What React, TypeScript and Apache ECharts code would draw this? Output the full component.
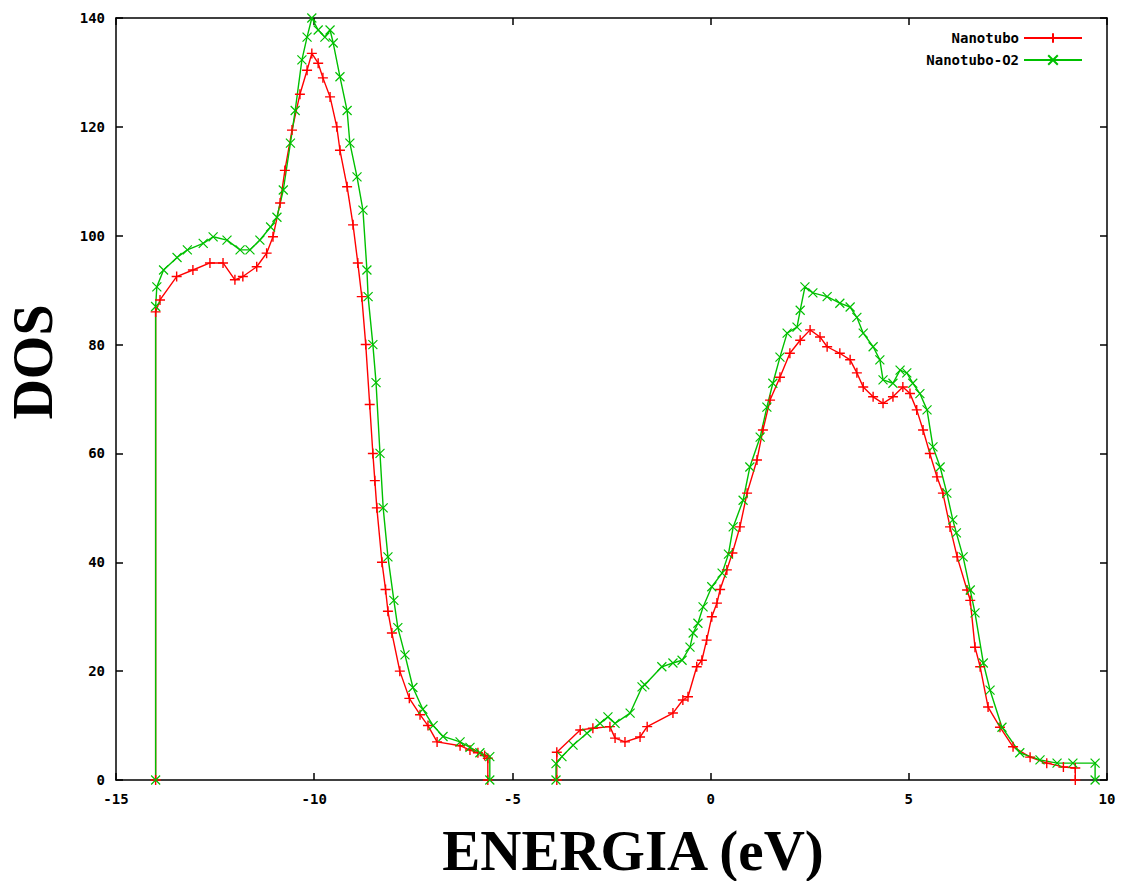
import React, { useEffect, useRef } from "react";
import * as echarts from "echarts";

const seriesNames = ["Nanotubo", "Nanotubo-O2"];
const xTicks = [-15, -10, -5, 0, 5, 10];
const yTicks = [0, 20, 40, 60, 80, 100, 120, 140];

const energiaNanotubo: (number | string)[] = [
  -14, -14, -13.89, -13.47, -13.06, -12.63, -12.3, -12.0, -11.8, -11.45, -11.2, -11.04, -10.86, -10.74, -10.56, -10.36,
  -10.18, -10.06, -9.9, -9.78, -9.6, -9.43, -9.35, -9.17, -9.02, -8.9, -8.8, -8.7, -8.6, -8.52, -8.47, -8.42, -8.29,
  -8.2, -8.14, -8.04, -7.84, -7.6, -7.33, -7.13, -6.9, -6.32, -6.07, -5.87, -5.7, -5.62, -5.62, -4.75,
  -3.88, -3.88, -3.29, -2.97, -2.54, -2.41, -2.16, -1.78, -1.6, -0.95, -0.7, -0.57, -0.35, -0.22, -0.1, 0.03, 0.16,
  0.24, 0.41, 0.55, 0.74, 0.92, 1.17, 1.32, 1.5, 1.75, 2.0, 2.26, 2.51, 2.76, 2.94, 3.26, 3.52, 3.69, 3.85, 4.1, 4.35,
  4.6, 4.85, 5.03, 5.2, 5.36, 5.53, 5.71, 5.86, 6.04, 6.22, 6.47, 6.55, 6.67, 6.8, 7.0, 7.3, 7.63, 8.06, 8.48, 8.9,
  9.2, 9.2,
];
const dosNanotubo: (number | string)[] = [
  0, 86, 88.2, 92.5, 93.7, 95, 95, 91.9, 92.5, 94.3, 96.8, 99.8, 106, 112, 119.4, 126,
  130.4, 133.5, 131.7, 129, 125.5, 120, 115.7, 109, 102, 95, 88.8, 80, 69, 60, 55, 50, 40,
  35, 31, 27, 20, 15, 12, 10, 7, 6.3, 5.5, 5, 4.5, 4, 0, "-",
  0, 5.1, 9.2, 9.5, 9.8, 7.7, 7.0, 7.9, 9.8, 12.3, 14.7, 15.3, 20.8, 22, 25.7, 30, 32.5,
  35, 38.6, 41.7, 46.5, 52.7, 58.8, 64.3, 69.8, 74, 78.4, 80.8, 82.7, 81.4, 79.6, 78.4, 77.2, 74.8, 72.2, 70.4, 69.2,
  70.4, 72.2, 71, 68, 64.3, 60, 55.7, 52.7, 46.5, 41, 34.9, 33, 24.4, 20.8, 13.4, 9.7, 6.1, 4.2, 3.1, 2.4,
  2.2, 0,
];

const energiaNanotuboO2: (number | string)[] = [
  -14, -14, -13.97, -13.8, -13.46, -13.2, -12.8, -12.55, -12.2, -11.87, -11.62, -11.37, -11.1, -10.94, -10.78, -10.6,
  -10.48, -10.31, -10.18, -10.06, -9.9, -9.73, -9.6, -9.52, -9.35, -9.17, -9.1, -8.92, -8.77, -8.67, -8.64, -8.52,
  -8.44, -8.34, -8.26, -8.14, -7.99, -7.89, -7.71, -7.51, -7.26, -7.0, -6.75, -6.32, -6.07, -5.82, -5.57, -5.57, -4.75,
  -3.9, -3.9, -3.75, -3.47, -3.12, -2.79, -2.59, -2.41, -2.03, -1.73, -1.66, -1.23, -0.95, -0.72, -0.52, -0.44, -0.32,
  -0.19, 0.03, 0.29, 0.45, 0.57, 0.82, 0.99, 1.25, 1.42, 1.57, 1.75, 1.93, 2.18, 2.26, 2.38, 2.58, 2.94, 3.26, 3.52,
  3.69, 3.85, 4.1, 4.27, 4.35, 4.6, 4.78, 4.95, 5.1, 5.28, 5.46, 5.61, 5.79, 5.96, 6.11, 6.2, 6.37, 6.55, 6.67, 6.88,
  7.05, 7.35, 7.8, 8.31, 8.74, 9.14, 9.7, 9.7,
];
const dosNanotuboO2: (number | string)[] = [
  0, 87, 90.6, 93.7, 96, 97.4, 98.6, 99.8, 99.2, 97.4, 97.4, 99.2, 101.6, 103.4, 108.4, 117,
  123, 132.3, 136.5, 140, 137.8, 136.5, 137.8, 135.4, 129.2, 123, 117, 110.8, 104.7, 93.7, 88.8, 80,
  73, 60, 50, 41, 33, 28, 23, 17, 13, 10, 8, 7, 6, 5, 4.3, 0, "-",
  0, 3, 4.3, 6.4, 8.6, 10.4, 11.6, 10.4, 12.3, 17.1, 17.5, 20.8, 21.5, 22, 24.4, 27, 28.8,
  31.8, 35.5, 38, 41.5, 46.5, 51.4, 57.5, 63, 68.5, 72.9, 77.7, 82.1, 83.2, 86.3, 90.6, 89.5, 88.8, 87.6, 86.9,
  85, 82.1, 79.6, 77.2, 73.5, 72.9, 75.3, 74.8, 72.9, 71, 68, 61.2, 57.5, 52.7, 47.8, 45.4, 41, 34.9, 30.7, 21.5,
  16.5, 9.7, 5, 3.7, 3.1, 3.1, 3.1, 0,
];

const zip = (xs: (number | string)[], ys: (number | string)[]) => xs.map((x, i) => [x, ys[i]]);

const tickFont = "DejaVu Sans Mono";

export default function App() {
  const ref = useRef<HTMLDivElement>(null);
  useEffect(() => {
    if (!ref.current) return;
    const chart = echarts.init(ref.current, null, { renderer: "svg" });
    const axisLine = { show: true, onZero: false, lineStyle: { color: "#000", width: 1.5 } };
    const tick = { show: true, inside: true, length: 7, lineStyle: { color: "#000", width: 1.5 } };
    const label = { color: "#000", fontFamily: tickFont, fontWeight: "bold" as const, fontSize: 14 };
    chart.setOption({
      animation: false,
      backgroundColor: "#fff",
      grid: { left: 116, right: 27, top: 18, bottom: 101, containLabel: false },
      legend: {
        data: seriesNames,
        orient: "vertical",
        align: "right",
        right: 46,
        top: 26,
        itemWidth: 58,
        itemHeight: 12,
        itemGap: 8,
        textStyle: { color: "#000", fontFamily: tickFont, fontWeight: "bold", fontSize: 14 },
      },
      xAxis: [
        {
          type: "value",
          min: xTicks[0],
          max: xTicks[xTicks.length - 1],
          interval: 5,
          axisLine,
          axisTick: tick,
          splitLine: { show: false },
          axisLabel: { ...label, margin: 12 },
        },
        {
          type: "value",
          position: "top",
          min: xTicks[0],
          max: xTicks[xTicks.length - 1],
          interval: 5,
          axisLine,
          axisTick: tick,
          splitLine: { show: false },
          axisLabel: { show: false },
        },
      ],
      yAxis: [
        {
          type: "value",
          min: yTicks[0],
          max: yTicks[yTicks.length - 1],
          interval: 20,
          axisLine,
          axisTick: tick,
          splitLine: { show: false },
          axisLabel: { ...label, margin: 11 },
        },
        {
          type: "value",
          position: "right",
          min: yTicks[0],
          max: yTicks[yTicks.length - 1],
          interval: 20,
          axisLine,
          axisTick: tick,
          splitLine: { show: false },
          axisLabel: { show: false },
        },
      ],
      series: [
        {
          name: seriesNames[0],
          type: "line",
          data: zip(energiaNanotubo, dosNanotubo),
          symbol: "path://M5,0L5,10M0,5L10,5",
          symbolSize: 10,
          showAllSymbol: true,
          connectNulls: false,
          lineStyle: { color: "#ff0000", width: 1.4 },
          itemStyle: { color: "#ff0000", borderColor: "#ff0000", borderWidth: 1.4 },
        },
        {
          name: seriesNames[1],
          type: "line",
          data: zip(energiaNanotuboO2, dosNanotuboO2),
          symbol: "path://M0,0L10,10M10,0L0,10",
          symbolSize: 9,
          showAllSymbol: true,
          connectNulls: false,
          lineStyle: { color: "#00c000", width: 1.4 },
          itemStyle: { color: "#00c000", borderColor: "#00c000", borderWidth: 1.2 },
        },
      ],
      graphic: [
        {
          type: "text",
          x: 33,
          y: 362,
          rotation: Math.PI / 2,
          style: {
            text: "DOS",
            fill: "#000",
            font: "bold 56px 'Liberation Serif', 'DejaVu Serif', serif",
            align: "center",
            verticalAlign: "middle",
          },
        },
        {
          type: "text",
          x: 633,
          y: 850,
          style: {
            text: "ENERGIA (eV)",
            fill: "#000",
            font: "bold 57px 'Liberation Serif', 'DejaVu Serif', serif",
            align: "center",
            verticalAlign: "middle",
          },
        },
      ],
    });
    return () => chart.dispose();
  }, []);
  return (
    <div
      ref={ref}
      style={{ position: "fixed", left: 0, top: 0, width: 1134, height: 881, background: "#fff" }}
    />
  );
}
